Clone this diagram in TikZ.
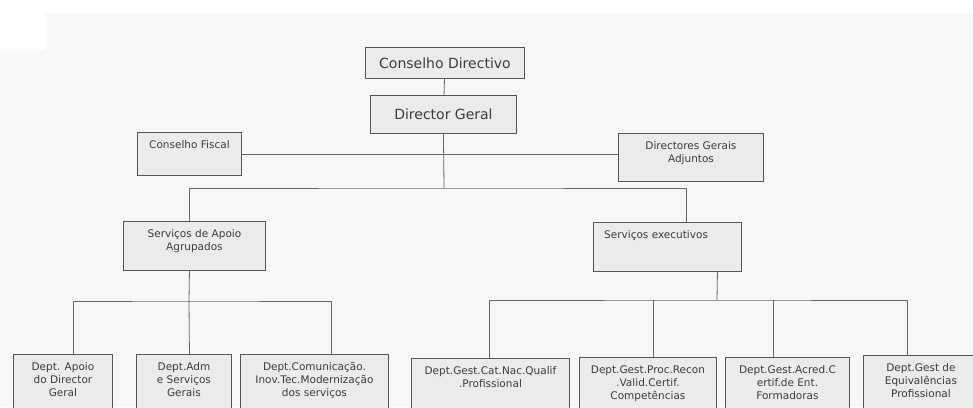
\documentclass[tikz,border=0pt]{standalone}
\usepackage{fontspec}
\setmainfont{DejaVu Sans}
\usetikzlibrary{positioning}
\definecolor{boxfill}{HTML}{EBEBEB}
\definecolor{boxline}{HTML}{555555}
\definecolor{txtgray}{HTML}{3C3C3C}
\definecolor{linkgray}{HTML}{666666}
\definecolor{paper}{HTML}{F7F7F7}
\tikzset{
  unit/.style={draw=boxline, fill=boxfill, line width=0.9pt, anchor=north west, inner sep=0pt, text=txtgray},
  big/.style={font=\fontsize{14}{16}\selectfont},
  lab/.style={anchor=north, align=center, text=txtgray, inner sep=3pt, yshift=-5pt, font=\fontsize{10.5}{13}\selectfont},
  labl/.style={lab, anchor=north west, align=left, xshift=8pt},
  link/.style={draw=linkgray, line width=0.8pt},
}
\begin{document}
\begin{tikzpicture}[x=1pt, y=-1pt]
\useasboundingbox (0,0) rectangle (973,407);
\clip (0,0) rectangle (973,407);
% paper
\fill[paper] (0,13) rectangle (973,407);
\fill[white] (0,13) rectangle (46,50);

% top of the chart
\node[unit, big, minimum width=159pt, minimum height=31pt] (cd) at (365,47) {Conselho Directivo};
\node[unit, big, minimum width=146pt, minimum height=38pt] (dg) at (370,95) {Director Geral};
\node[unit, minimum width=104pt, minimum height=43pt, label={[lab]north:{Conselho Fiscal}}] (cf) at (137,132) {};
\node[unit, minimum width=145pt, minimum height=48pt, label={[lab]north:{Directores Gerais\\Adjuntos}}] (dga) at (618,133) {};

% services
\node[unit, minimum width=142pt, minimum height=49pt, label={[lab]north:{Serviços de Apoio\\Agrupados}}] (sap) at (123,221) {};
\node[unit, minimum width=148pt, minimum height=49pt, label={[labl]north west:{Serviços executivos}}] (sex) at (593,222) {};

% departments (cut by the lower edge)
\node[unit, minimum width=99pt, minimum height=70pt, label={[lab]north:{Dept. Apoio\\do Director\\Geral}}] (d1) at (13,354) {};
\node[unit, minimum width=95pt, minimum height=70pt, label={[lab]north:{Dept.Adm\\e Serviços\\Gerais}}] (d2) at (136,354) {};
\node[unit, minimum width=148pt, minimum height=70pt, label={[lab]north:{Dept.Comunicação.\\Inov.Tec.Modernização\\dos serviços}}] (d3) at (240,354) {};
\node[unit, minimum width=158pt, minimum height=70pt, label={[lab]north:{Dept.Gest.Cat.Nac.Qualif\\.Profissional}}] (d4) at (411,358) {};
\node[unit, minimum width=137pt, minimum height=70pt, label={[lab]north:{Dept.Gest.Proc.Recon\\.Valid.Certif.\\Competências}}] (d5) at (579,357) {};
\node[unit, minimum width=124pt, minimum height=70pt, label={[lab]north:{Dept.Gest.Acred.C\\ertif.de Ent.\\Formadoras}}] (d6) at (725,357) {};
\node[unit, minimum width=115pt, minimum height=70pt, label={[lab]north:{Dept.Gest de\\Equivalências\\Profissional}}] (d7) at (863,355) {};

% connectors
\coordinate (j1) at (444,188);
\coordinate (j2) at (189,301);
\coordinate (j3) at (717,300);
\draw[link] (cd) -- (dg);
\draw[link] (cf.east) -- (cf.east -| dga.west);
\draw[link] (dg.south) -- (j1);
\draw[link] ([xshift=-5pt]sap.north) |- (j1) -| ([xshift=19pt]sex.north);

\draw[link] ([xshift=-5pt]sap.south) -- (j2);
\draw[link] ([xshift=10.5pt]d1.north) |- (j2) -| ([xshift=17pt]d3.north);
\draw[link] (j2) -- ([xshift=5.5pt]d2.north);

\draw[link] ([xshift=50pt]sex.south) -- (j3);
\draw[link] ([xshift=-1pt]d4.north) |- (j3) -| ([xshift=-13.5pt]d7.north);
\draw[link] ([xshift=5pt]d5.north) -- ([xshift=5pt]d5.north |- j3);
\draw[link] ([xshift=-14pt]d6.north) -- ([xshift=-14pt]d6.north |- j3);
\end{tikzpicture}
\end{document}
